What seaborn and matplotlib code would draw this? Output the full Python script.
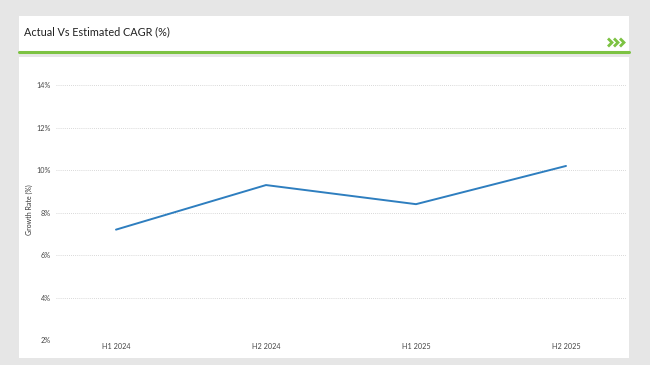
import matplotlib
matplotlib.use("Agg")
import matplotlib.pyplot as plt
import seaborn as sns
import pandas as pd
from matplotlib.patches import Rectangle
from matplotlib.lines import Line2D

periods = ["H1 2024", "H2 2024", "H1 2025", "H2 2025"]
growth = [7.2, 9.3, 8.4, 10.2]
yticks = [2, 4, 6, 8, 10, 12, 14]
title = "Actual Vs Estimated CAGR (%)"
ylabel = "Growth Rate (%)"

sns.set_theme(style="white")
plt.rcParams["font.family"] = ["Lato", "DejaVu Sans"]

W, H = 650, 365
fig = plt.figure(figsize=(6.5, 3.65), dpi=100)
fig.patch.set_facecolor("#e6e6e6")

def px(x, y, w, h):
    return (x / W, 1 - (y + h) / H, w / W, h / H)

# header panel
x0, y0, w0, h0 = px(19, 16, 610, 36)
fig.patches.append(Rectangle((x0, y0), w0, h0, transform=fig.transFigure,
                             facecolor="white", edgecolor="none", zorder=-2))
# chart panel
x1, y1, w1, h1 = px(19, 57, 610, 301)
fig.patches.append(Rectangle((x1, y1), w1, h1, transform=fig.transFigure,
                             facecolor="white", edgecolor="none", zorder=-2))
# green rule
fig.lines.append(Line2D([19 / W, 629 / W], [1 - 52 / H, 1 - 52 / H],
                        transform=fig.transFigure, color="#7cc242", lw=2.2,
                        zorder=-1))
fig.text(24 / W, 1 - 32 / H, title, fontsize=7.8, color="#222222",
         va="center", ha="left")
# chevron icon
for i in range(3):
    cx = 608 + i * 6
    fig.lines.append(Line2D([cx / W, (cx + 4) / W, cx / W],
                            [1 - 38.5 / H, 1 - 42.5 / H, 1 - 46.5 / H],
                            transform=fig.transFigure, color="#7cc242",
                            lw=2.0, solid_joinstyle="miter",
                            solid_capstyle="butt"))

ax = fig.add_axes(px(56, 80, 570, 260))
ax.set_zorder(1)
ax.patch.set_alpha(0)
df = pd.DataFrame({"period": periods, "growth": growth})
sns.lineplot(data=df, x="period", y="growth", ax=ax, color="#2e7ebf",
             linewidth=1.4, sort=False)
ax.set_xlim(-0.4, 3.4)
ax.set_ylim(2, 14.25)
ax.set_yticks(yticks)
ax.set_yticklabels([f"{v}%" for v in yticks])
ax.grid(axis="y", linestyle=(0, (1, 1.5)), color="#cccccc", linewidth=0.6)
ax.grid(axis="x", visible=False)
for s in ax.spines.values():
    s.set_visible(False)
ax.tick_params(axis="both", length=0, labelsize=5.2, colors="#444444")
ax.tick_params(axis="y", pad=4)
ax.tick_params(axis="x", pad=2)
ax.set_xlabel("")
ax.set_ylabel(ylabel, fontsize=5, color="#333333", labelpad=2)

fig.savefig("out.png", dpi=100, facecolor=fig.get_facecolor())
